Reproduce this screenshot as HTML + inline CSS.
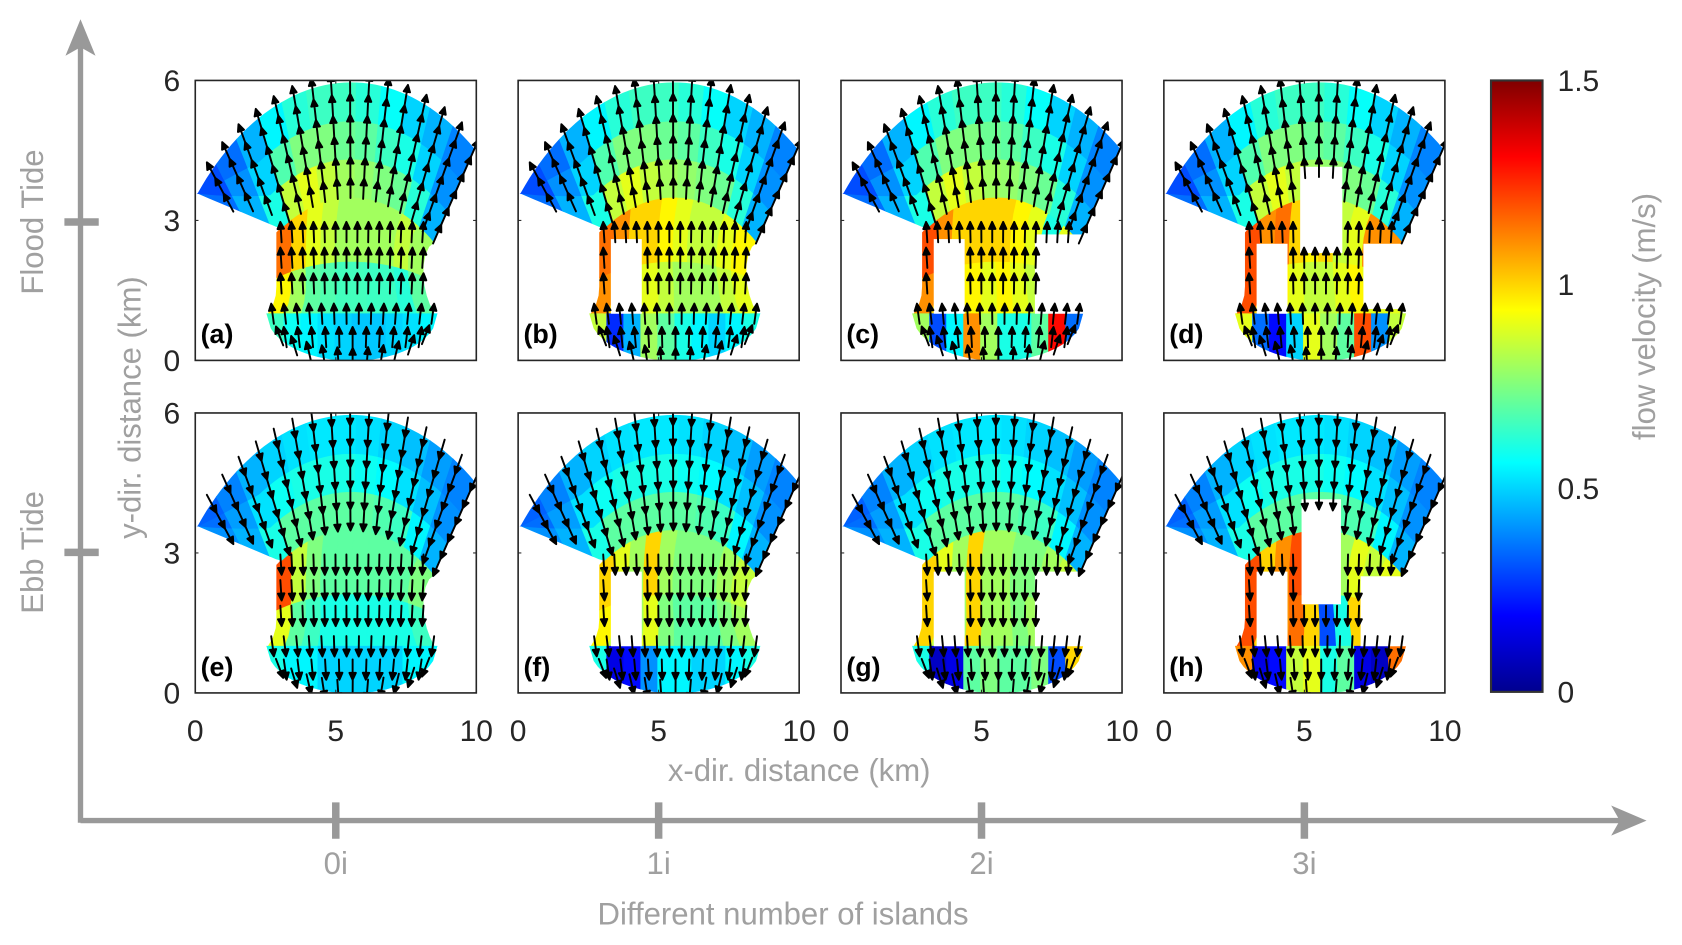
<!DOCTYPE html>
<html><head><meta charset="utf-8"><style>
html,body{margin:0;padding:0;background:#fff;}
svg{display:block;font-family:"Liberation Sans",Arial,sans-serif;}
</style></head>
<body>
<svg id="fig" width="1682" height="945" viewBox="0 0 1568 881" xmlns="http://www.w3.org/2000/svg">
<defs>
<linearGradient id="jetgrad" x1="0" y1="1" x2="0" y2="0">
<stop offset="0" stop-color="#00008f"/><stop offset="0.125" stop-color="#0000ff"/><stop offset="0.375" stop-color="#00ffff"/><stop offset="0.625" stop-color="#ffff00"/><stop offset="0.875" stop-color="#ff0000"/><stop offset="1" stop-color="#800000"/>
</linearGradient>
</defs>
<g id="panels"></g>
<g id="frame" fill="#999" stroke="#999">
<line x1="75" y1="765" x2="1520" y2="765" stroke-width="5"/>
<polygon points="1535,765 1502,751 1510,765 1502,779" stroke="none"/>
<line x1="75" y1="767" x2="75" y2="32" stroke-width="5"/>
<polygon points="75,18 61,52 75,44 89,52" stroke="none"/>
<line x1="60" y1="207" x2="92" y2="207" stroke-width="7"/>
<line x1="60" y1="515" x2="92" y2="515" stroke-width="7"/>
<line x1="313" y1="748" x2="313" y2="782" stroke-width="7"/>
<line x1="614" y1="748" x2="614" y2="782" stroke-width="7"/>
<line x1="915" y1="748" x2="915" y2="782" stroke-width="7"/>
<line x1="1216" y1="748" x2="1216" y2="782" stroke-width="7"/>
</g>
<g fill="#a0a0a0" font-size="29" text-anchor="middle" stroke="none">
<text x="313" y="815">0i</text>
<text x="614" y="815">1i</text>
<text x="915" y="815">2i</text>
<text x="1216" y="815">3i</text>
<text x="730" y="862">Different number of islands</text>
<text transform="translate(40,207) rotate(-90)">Flood Tide</text>
<text transform="translate(40,515) rotate(-90)">Ebb Tide</text>
<text transform="translate(131,380) rotate(-90)">y-dir. distance (km)</text>
<text x="745" y="728">x-dir. distance (km)</text>
<text transform="translate(1543,295) rotate(-90)">flow velocity (m/s)</text>
</g>
<g>
<rect x="1390" y="75" width="48" height="570" fill="url(#jetgrad)" stroke="#333" stroke-width="2"/>
<g fill="#262626" font-size="28">
<text x="1452" y="85">1.5</text>
<text x="1452" y="275">1</text>
<text x="1452" y="465">0.5</text>
<text x="1452" y="655">0</text>
</g>
</g>
</svg>
<script>
// ---- data ----
const panelLabels = ['(a)','(b)','(c)','(d)','(e)','(f)','(g)','(h)'];
const xTicks = [0,5,10];
const yTicks = [0,3,6];
// fan velocities (m/s), 12 angular bins from left (west) to right (east); rows inner, mid, outer
const fanFlood = [
 [0.35,0.45,0.6,0.85,0.9,0.85,0.8,0.78,0.75,0.72,0.62,0.45],
 [0.3,0.4,0.5,0.68,0.75,0.75,0.72,0.7,0.65,0.6,0.5,0.4],
 [0.3,0.35,0.45,0.55,0.62,0.65,0.65,0.62,0.57,0.5,0.45,0.38]
];
const fanEbb = [
 [0.4,0.45,0.6,0.7,0.7,0.7,0.7,0.7,0.68,0.65,0.55,0.45],
 [0.35,0.42,0.52,0.58,0.6,0.6,0.6,0.58,0.56,0.52,0.47,0.4],
 [0.33,0.38,0.45,0.5,0.52,0.53,0.53,0.52,0.5,0.47,0.42,0.38]
];
// channel velocities, 10 bins across x; per panel
const chanUpper = [
 [1.15,1.0,0.9,0.85,0.8,0.8,0.8,0.8,0.85,0.8],
 [1.15,1.1,1.0,1.0,0.95,0.9,0.85,0.85,0.9,0.95],
 [1.2,1.1,1.0,1.0,1.0,1.0,0.95,0.9,0.6,0.9],
 [1.2,1.1,1.15,1.0,0.95,1.0,0.85,0.9,1.1,1.1],
 [1.2,0.85,0.75,0.7,0.7,0.7,0.7,0.7,0.7,0.75],
 [1.0,0.9,0.8,1.0,0.8,0.75,0.75,0.75,0.8,0.85],
 [1.0,0.9,0.8,1.0,0.8,0.8,0.75,0.75,0.8,0.85],
 [1.2,1.0,1.1,1.2,1.0,0.8,0.8,0.9,0.85,0.9]
];
const chanLower = [
 [0.95,0.8,0.7,0.68,0.66,0.66,0.65,0.65,0.62,0.7],
 [1.1,1.0,0.9,0.9,0.85,0.8,0.8,0.8,0.85,0.9],
 [1.1,1.0,0.95,0.95,0.9,0.95,0.9,0.85,0.9,0.9],
 [1.2,1.0,0.95,0.9,0.85,0.85,0.9,0.95,0.9,0.9],
 [0.9,0.7,0.65,0.6,0.6,0.6,0.6,0.6,0.6,0.65],
 [0.95,0.85,0.8,0.9,0.75,0.7,0.7,0.7,0.75,0.8],
 [1.0,0.85,0.8,1.0,0.8,0.8,0.75,0.8,0.85,0.9],
 [1.2,1.0,1.1,1.15,1.0,0.3,0.6,1.0,0.9,0.9]
];
// bowl velocities, 10 bins across x
const bowlVals = [
 [0.65,0.58,0.55,0.52,0.5,0.48,0.48,0.5,0.52,0.55],
 [0.85,0.25,0.45,0.8,0.7,0.6,0.55,0.5,0.55,0.6],
 [0.8,0.3,0.55,1.1,0.8,0.6,0.6,0.7,1.3,0.35],
 [0.9,0.35,0.2,0.5,0.9,0.8,0.7,1.2,0.4,0.85],
 [0.6,0.55,0.55,0.5,0.5,0.5,0.5,0.5,0.55,0.55],
 [0.6,0.15,0.2,0.4,0.55,0.55,0.5,0.5,0.55,0.6],
 [0.6,0.1,0.15,0.7,0.75,0.7,0.7,0.75,0.3,1.0],
 [1.1,0.15,0.2,0.85,0.9,0.6,0.7,0.15,0.1,1.15]
];
// islands per panel: [x0,x1,y0,y1] in km
const islands = [
 [],
 [[3.3,4.4,1.0,2.6]],
 [[3.3,4.4,1.0,2.6],[6.9,9.0,1.0,2.7]],
 [[3.3,4.4,1.0,2.5],[4.85,6.35,2.3,4.15],[7.1,9.0,1.1,2.5]],
 [],
 [[3.3,4.4,1.0,2.6]],
 [[3.3,4.4,1.0,2.6],[6.9,9.0,1.0,2.6]],
 [[3.3,4.4,1.0,2.6],[4.9,6.3,1.9,4.15],[7.0,9.0,1.0,2.5]]
];

// ---- geometry ----
const NS='http://www.w3.org/2000/svg';
const PX0=[182,483,784,1085], PY0=[75,385], PW=262, PH=261;
const C={x:5.55,y:-1.5}, ROUT=7.45;
const P1={x:3.05,y:2.83}, P0={x:0.1,y:3.58};
function jet(v){const t=Math.max(0,Math.min(1,v/1.5));
 const f=a=>Math.round(255*Math.max(0,Math.min(1,1.5-Math.abs(4*t-a))));
 return 'rgb('+f(3)+','+f(2)+','+f(1)+')';}
function rin(th){
 if(th<=120)return 5.0;
 const a=th*Math.PI/180,cx=Math.cos(a),cy=Math.sin(a);
 const dx=P0.x-P1.x,dy=P0.y-P1.y,wx=P1.x-C.x,wy=P1.y-C.y;
 const det=cx*(-dy)-cy*(-dx);
 const r=(wx*(-dy)-wy*(-dx))/det;
 return Math.min(ROUT,Math.max(5.0,r));
}
function fanMap(u,v){const th=137-83*u;const ri=rin(th);const r=ri+(ROUT-ri)*v;const a=th*Math.PI/180;return [C.x+r*Math.cos(a),C.y+r*Math.sin(a)];}
function yin(x){const d=x-C.x;return C.y+Math.sqrt(Math.max(0,25-d*d));}
function Lc(y){return 2.9-0.3*Math.pow(Math.max(0,(1.5-y)/0.5),2);}
function Rc(y){return 8.1+0.4*Math.pow((y-1.8)/0.8,2);}
function chanMap(u,v){const ye=1.0+v*1.6;const x=Lc(ye)+u*(Rc(ye)-Lc(ye));return [x,1.0+v*(yin(x)-1.0)];}
function B(x){const d=(x-5.575)/3.025;return 1-Math.sqrt(Math.max(0,1-d*d));}
function bowlMap(u,v){const x=2.55+u*6.05;return [x,1.0-v*(1.0-B(x))];}
function mk(tag,attrs,parent){const e=document.createElementNS(NS,tag);for(const k in attrs)e.setAttribute(k,attrs[k]);parent.appendChild(e);return e;}

const root=document.getElementById('panels');
for(let i=0;i<8;i++){
 const col=i%4,row=Math.floor(i/4);
 const X0=PX0[col],Y0=PY0[row];
 const sx=x=>X0+x*PW/10, sy=y=>Y0+PH-y*PH/6;
 const g=mk('g',{},root);
 
 
 const cp=mk('clipPath',{id:'clip'+i},g);
 mk('rect',{x:X0,y:Y0,width:PW,height:PH},cp);
 const body=mk('g',{'clip-path':'url(#clip'+i+')'},g);
 function cell(map,u0,u1,v0,v1,val,name){
  const pts=[],n=4;
  for(let k=0;k<=n;k++)pts.push(map(u0+(u1-u0)*k/n,v0));
  for(let k=0;k<=n;k++)pts.push(map(u1,v0+(v1-v0)*k/n));
  for(let k=0;k<=n;k++)pts.push(map(u1-(u1-u0)*k/n,v1));
  for(let k=0;k<=n;k++)pts.push(map(u0,v1-(v1-v0)*k/n));
  const c=jet(val);
  const p=mk('polygon',{points:pts.map(q=>sx(q[0]).toFixed(1)+','+sy(q[1]).toFixed(1)).join(' '),fill:c,stroke:c,'stroke-width':0.8},body);
  
  
 }
 const fan=row===0?fanFlood:fanEbb;
 for(let c=0;c<10;c++){cell(chanMap,c/10,(c+1)/10,0,0.45,chanLower[i][c],'channel-cell');cell(chanMap,c/10,(c+1)/10,0.45,1,chanUpper[i][c],'channel-cell');}
 for(let r=0;r<3;r++)for(let c=0;c<12;c++)cell(fanMap,c/12,(c+1)/12,r/3,(r+1)/3,fan[r][c],'fan-cell');
 for(let c=0;c<10;c++)cell(bowlMap,c/10,(c+1)/10,0,1,bowlVals[i][c],'bowl-cell');
 islands[i].forEach(is=>{
  const w=mk('rect',{x:sx(is[0]),y:sy(is[3]),width:sx(is[1])-sx(is[0]),height:sy(is[2])-sy(is[3]),fill:'#fff'},body);
  
  
 });
 // arrows
 const sgn=row===0?1:-1;
 const inIsland=(x,y)=>islands[i].some(is=>x>is[0]+0.05&&x<is[1]-0.05&&y>is[2]+0.05&&y<is[3]-0.05);
 const ag=mk('g',{stroke:'#000','stroke-width':2.3,fill:'#000','stroke-linecap':'round','stroke-linejoin':'round'},body);
 
 
 function arrow(x,y,dx,dy){
  if(inIsland(x,y))return;
  let px=dx*PW/10,py=-dy*PH/6;const m=Math.hypot(px,py)||1;px/=m;py/=m;
  const L=19;
  const cx0=sx(x),cy0=sy(y);
  const qx=sgn*px,qy=sgn*py;
  const sx0=cx0-qx*L*0.5,sy0=cy0-qy*L*0.5;
  const ex=cx0+qx*L*0.5,ey=cy0+qy*L*0.5;
  const h=6.5,w=3;
  const bx=ex-qx*h,by=ey-qy*h;
  mk('path',{d:'M'+sx0.toFixed(1)+','+sy0.toFixed(1)+'L'+bx.toFixed(1)+','+by.toFixed(1)+'M'+ex.toFixed(1)+','+ey.toFixed(1)+'L'+(bx-qy*w).toFixed(1)+','+(by+qx*w).toFixed(1)+'L'+(bx+qy*w).toFixed(1)+','+(by-qx*w).toFixed(1)+'Z','stroke-width':1.8},ag);
 }
 for(let a=0;a<17;a++){const th=137-83*a/16,rad=th*Math.PI/180;
  [5.2,5.65,6.1,6.55,7.0,7.45].forEach(r=>{if(r<rin(th)+0.1)return;arrow(C.x+r*Math.cos(rad),C.y+r*Math.sin(rad),Math.cos(rad),Math.sin(rad));});}
 [2.75,2.2,1.65].forEach(y=>{for(let k=0;k<14;k++){const x=3.05+k*(8.1-3.05)/13;if(x<Lc(y)||x>Rc(y)||y>yin(x))continue;arrow(x,y,(x-5.6)*0.04,1);}});
 for(let k=0;k<14;k++){const x=2.75+k*5.7/13;arrow(x,1.0,(x-5.6)*0.08,1);}
 for(let k=0;k<11;k++){const x=3.2+k*4.8/10;arrow(x,0.5,(x-5.6)*0.1,1);}
 for(let k=0;k<11;k++){const x=3.0+k*5.2/10;arrow(x,B(x)+0.05,(x-5.575)*0.25,1);}
 // box and ticks
 const bx=mk('rect',{x:X0,y:Y0,width:PW,height:PH,fill:'none',stroke:'#262626','stroke-width':1.5},g);
 
 
 const lab=mk('text',{x:X0+5,y:Y0+PH-16,'font-size':25,'font-weight':'bold',fill:'#000'},g);
 lab.textContent=panelLabels[i];
 
 
 xTicks.forEach(t=>{mk('line',{x1:sx(t),y1:Y0+PH,x2:sx(t),y2:Y0+PH-3,stroke:'#262626'},g);mk('line',{x1:sx(t),y1:Y0,x2:sx(t),y2:Y0+3,stroke:'#262626'},g);});
 yTicks.forEach(t=>{mk('line',{x1:X0,y1:sy(t),x2:X0+3,y2:sy(t),stroke:'#262626'},g);mk('line',{x1:X0+PW,y1:sy(t),x2:X0+PW-3,y2:sy(t),stroke:'#262626'},g);});
 if(col===0){yTicks.forEach(t=>{const tx=mk('text',{x:X0-14,y:sy(t)+10,'font-size':28,fill:'#262626','text-anchor':'end'},g);tx.textContent=t;
  
  });}
 if(row===1){xTicks.forEach(t=>{const tx=mk('text',{x:sx(t),y:Y0+PH+45,'font-size':28,fill:'#262626','text-anchor':'middle'},g);tx.textContent=t;
  
  });}
}
</script>
</body></html>
